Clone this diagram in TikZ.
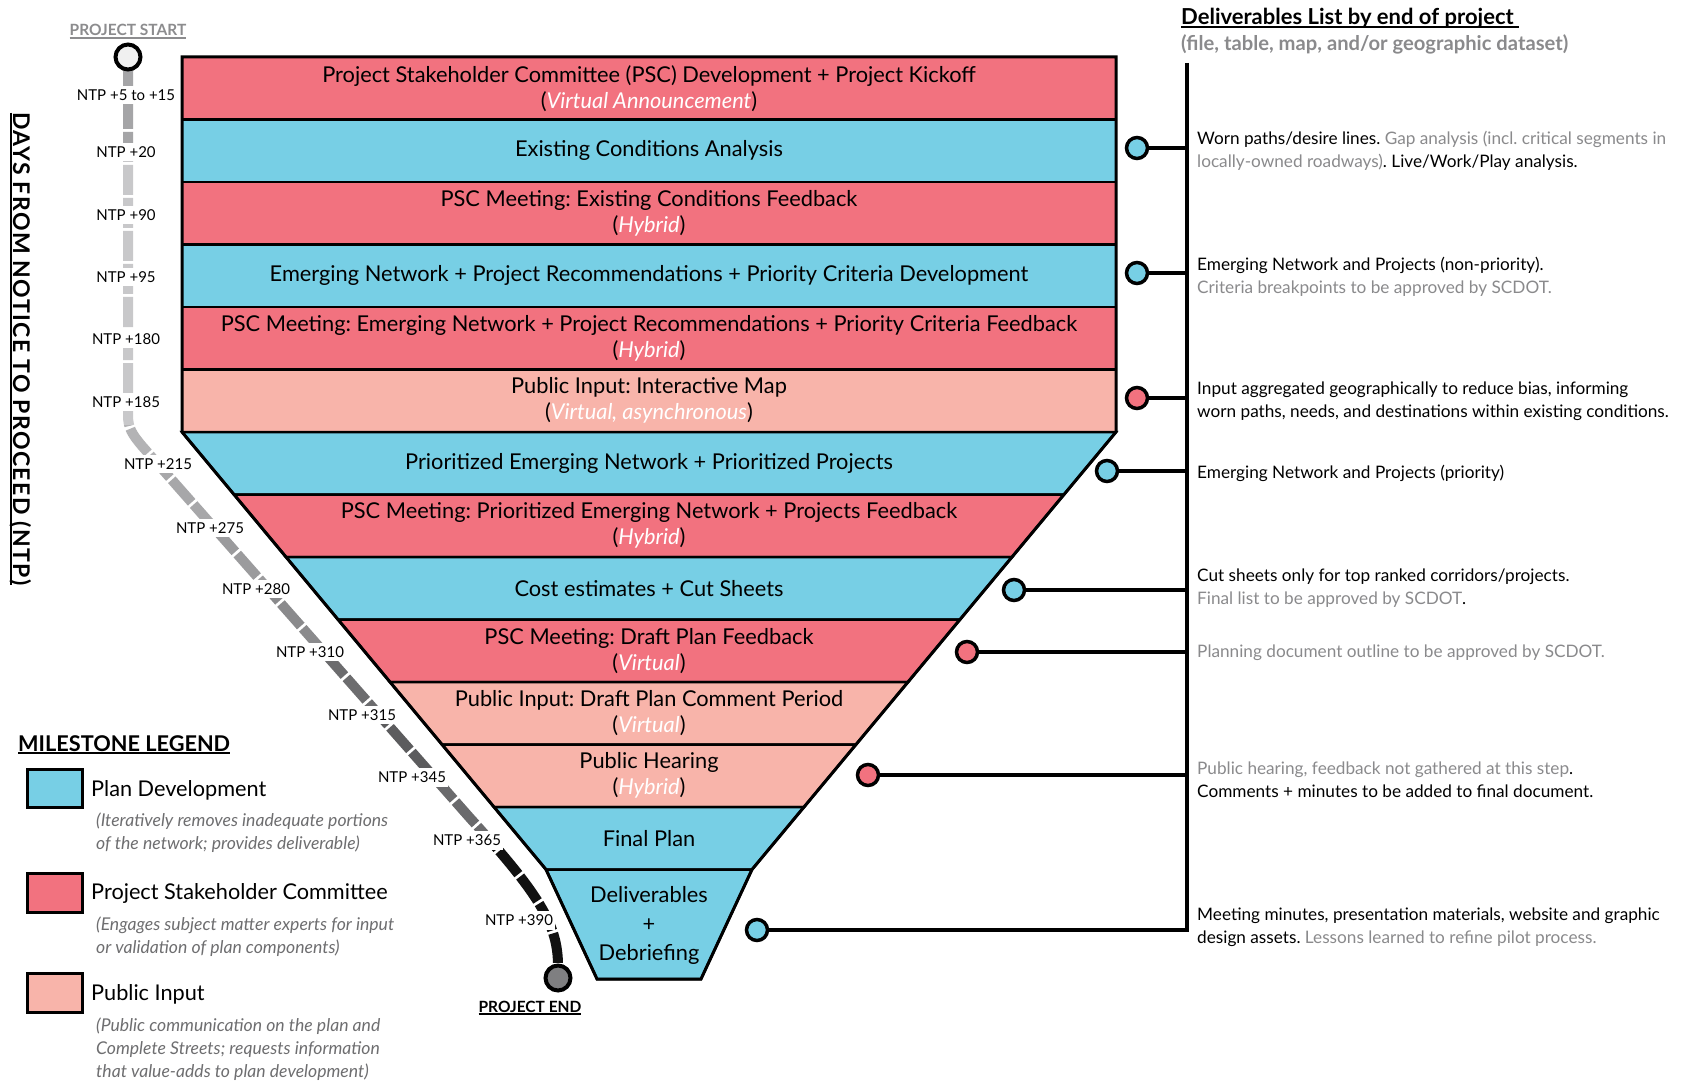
\documentclass[tikz,border=0pt]{standalone}
\usepackage{fontspec}
\setmainfont{Lato}
\frenchspacing
\definecolor{pscpink}{HTML}{F2727F}
\definecolor{planblue}{HTML}{77CFE5}
\definecolor{pubpink}{HTML}{F8B4AA}
\definecolor{txtgray}{HTML}{8A8A8C}
\definecolor{legray}{HTML}{6E6E70}
\definecolor{startgray}{HTML}{8C8C8E}
\definecolor{tlA}{HTML}{A5A5A7}
\definecolor{tlB}{HTML}{C8C8CA}
\definecolor{tlC}{HTML}{B3B3B5}
\definecolor{tlD}{HTML}{A7A7A9}
\definecolor{tlE}{HTML}{9B9B9D}
\definecolor{tlF}{HTML}{8A8A8C}
\definecolor{tlG}{HTML}{6C6C6E}
\definecolor{tlH}{HTML}{5C5C5E}
\definecolor{tlI}{HTML}{6A6A6C}
\definecolor{tlJ}{HTML}{111111}
\definecolor{endgray}{HTML}{7F7F81}
\definecolor{startfill}{HTML}{F0F0F0}
\newcommand{\myul}[1]{\setbox0\hbox{#1}\rlap{\rule[-3pt]{\wd0}{1.6pt}}\box0}
\begin{document}
\begin{tikzpicture}[x=1pt,y=-1pt,
  bandtxt/.style={font=\fontsize{21.8}{26}\selectfont, align=center, text=black, inner sep=0pt},
  ntp/.style={font=\fontsize{15}{18}\selectfont, fill=white, inner xsep=2pt, inner ysep=4pt},
  deltxt/.style={font=\fontsize{17.2}{23}\selectfont, anchor=west, align=left, inner sep=0pt},
  dot/.style={circle, draw=black, line width=3.5pt, minimum size=21pt, inner sep=0pt},
  conn/.style={line width=4pt, line join=miter},
  legbox/.style={draw=black, line width=3pt},
  legname/.style={font=\fontsize{21.7}{25}\selectfont, anchor=west, inner sep=0pt},
  legdesc/.style={font=\fontsize{17.6}{23}\selectfont\itshape, text=legray, anchor=west, align=left, inner sep=0pt},
  tl/.style={line width=10pt, dash pattern=on 30pt off 3pt},
  endpt/.style={circle, draw=black, line width=4pt, minimum size=25pt, inner sep=0pt}
]
\fill[white] (0,0) rectangle (1686,1083);
\useasboundingbox (0,0) rectangle (1686,1083);

% ---------- funnel bands ----------
\foreach \ya/\yb/\la/\lb/\col in {
 57/119.5/182/182/pscpink,
 119.5/182/182/182/planblue,
 182/244.5/182/182/pscpink,
 244.5/307/182/182/planblue,
 307/369.5/182/182/pscpink,
 369.5/432/182/182/pubpink,
 432/494.5/182/234/planblue,
 494.5/557/234/286/pscpink,
 557/619.5/286/338/planblue,
 619.5/682/338/390/pscpink,
 682/744.5/390/442/pubpink,
 744.5/807/442/494/pubpink,
 807/869.5/494/546/planblue,
 869.5/979/546/597/planblue}
 {\filldraw[fill=\col, draw=black, line width=2.5pt, line join=miter]
   (\la,\ya) -- ({1298-\la},\ya) -- ({1298-\lb},\yb) -- (\lb,\yb) -- cycle;}
\draw[line width=3pt, line join=miter] (182,57) -- (1116,57) -- (1116,432) -- (752,869.5)
  -- (701,979) -- (597,979) -- (546,869.5) -- (182,432) -- cycle;

% ---------- band texts ----------
\node[bandtxt] (b1) at (649,88.25) {Project Stakeholder Committee (PSC) Development + Project Kickoff\\(\textcolor{white}{\itshape Virtual Announcement})};
\node[bandtxt] (b2) at (649,150.75) {Existing Conditions Analysis};
\node[bandtxt] (b3) at (649,213.25) {PSC Meeting: Existing Conditions Feedback\\(\textcolor{white}{\itshape Hybrid})};
\node[bandtxt] (b4) at (649,275.75) {Emerging Network + Project Recommendations + Priority Criteria Development};
\node[bandtxt] (b5) at (649,338.25) {PSC Meeting: Emerging Network + Project Recommendations + Priority Criteria Feedback\\(\textcolor{white}{\itshape Hybrid})};
\node[bandtxt] (b6) at (649,400.75) {Public Input: Interactive Map\\(\textcolor{white}{\itshape Virtual, asynchronous})};
\node[bandtxt] (b7) at (649,463.25) {Prioritized Emerging Network + Prioritized Projects};
\node[bandtxt] (b8) at (649,525.75) {PSC Meeting: Prioritized Emerging Network + Projects Feedback\\(\textcolor{white}{\itshape Hybrid})};
\node[bandtxt] (b9) at (649,588.25) {Cost estimates + Cut Sheets};
\node[bandtxt] (b10) at (649,650.75) {PSC Meeting: Draft Plan Feedback\\(\textcolor{white}{\itshape Virtual})};
\node[bandtxt] (b11) at (649,713.25) {Public Input: Draft Plan Comment Period\\(\textcolor{white}{\itshape Virtual})};
\node[bandtxt] (b12) at (649,775.75) {Public Hearing\\(\textcolor{white}{\itshape Hybrid})};
\node[bandtxt] (b13) at (649,838.25) {Final Plan};
\node[bandtxt, font=\fontsize{21.8}{29}\selectfont] (b14) at (649,925) {Deliverables\\+\\Debriefing};

% ---------- timeline ----------
\foreach \ya/\yb/\col in {40/147/tlA, 147/425/tlB, 425/470/tlC, 470/535/tlD, 535/595/tlE,
  595/660/tlF, 660/720/tlG, 720/785/tlH, 785/848/tlI, 848/1000/tlJ}{
  \begin{scope}
    \clip (0,\ya) rectangle (700,\yb);
    \draw[tl, \col] (128,66) -- (128,415) .. controls (128,428) and (132,434) .. (142,446)
      -- (470,818) .. controls (540,895) and (558,925) .. (558,966);
  \end{scope}
}
\node[ntp] (t1) at (126,95) {NTP +5 to +15};
\node[ntp] (t2) at (126,152) {NTP +20};
\node[ntp] (t3) at (126,215) {NTP +90};
\node[ntp] (t4) at (126,277) {NTP +95};
\node[ntp] (t5) at (126,339) {NTP +180};
\node[ntp] (t6) at (126,402) {NTP +185};
\node[ntp] (t7) at (158,464) {NTP +215};
\node[ntp] (t8) at (210,528) {NTP +275};
\node[ntp] (t9) at (256,589) {NTP +280};
\node[ntp] (t10) at (310,652) {NTP +310};
\node[ntp] (t11) at (362,715) {NTP +315};
\node[ntp] (t12) at (412,777) {NTP +345};
\node[ntp] (t13) at (467,840) {NTP +365};
\node[ntp] (t14) at (519,920) {NTP +390};
\node[endpt, fill=startfill] (start) at (128,57) {};
\node[endpt, fill=endgray] (end) at (558,978) {};
\node[font=\fontsize{15.5}{18}\selectfont\bfseries, text=startgray, inner sep=0pt, anchor=base] (startlbl) at (128,36) {\myul{PROJECT START}};
\node[font=\fontsize{15.5}{18}\selectfont\bfseries, inner sep=0pt, anchor=base] (endlbl) at (530,1012) {\myul{PROJECT END}};

% ---------- vertical axis title ----------
\node[font=\fontsize{23}{26}\selectfont\bfseries\addfontfeatures{LetterSpace=6}, rotate=-90, inner sep=0pt, anchor=base] (days) at (13,349) {\myul{DAYS FROM NOTICE TO PROCEED (NTP)}};

% ---------- deliverables list ----------
\node[anchor=base west, inner sep=0pt, font=\fontsize{22}{24}\selectfont\bfseries] (dtitle) at (1181,25) {\myul{Deliverables List by end of project\ }};
\node[anchor=base west, inner sep=0pt, font=\fontsize{20.2}{22}\selectfont\bfseries, text=txtgray] (dsub) at (1181,51) {(file, table, map, and/or geographic dataset)};

\coordinate (vtop) at (1187,63);
\coordinate (vbot) at (1187,930);
\node[dot, fill=planblue] (c1) at (1137,148) {};
\node[dot, fill=planblue] (c2) at (1137,273) {};
\node[dot, fill=pscpink] (c3) at (1137,398) {};
\node[dot, fill=planblue] (c4) at (1107,471) {};
\node[dot, fill=planblue] (c5) at (1014,590) {};
\node[dot, fill=pscpink] (c6) at (967,652) {};
\node[dot, fill=pscpink] (c7) at (868,775) {};
\node[dot, fill=planblue] (c8) at (757,930) {};
\coordinate (v1) at (1187,148);
\coordinate (v2) at (1187,273);
\coordinate (v3) at (1187,398);
\coordinate (v4) at (1187,471);
\coordinate (v5) at (1187,590);
\coordinate (v6) at (1187,652);
\coordinate (v7) at (1187,775);
\draw[conn] (vtop) -- (vbot) -- (c8);
\foreach \i in {1,...,7}{\draw[conn] (c\i) -- (v\i);}

\node[deltxt] (d1) at (1197,150.5) {Worn paths/desire lines. \textcolor{txtgray}{Gap analysis (incl. critical segments in}\\\textcolor{txtgray}{locally-owned roadways)}. Live/Work/Play analysis.};
\node[deltxt] (d2) at (1197,276.5) {Emerging Network and Projects (non-priority).\\\textcolor{txtgray}{Criteria breakpoints to be approved by SCDOT.}};
\node[deltxt] (d3) at (1197,401.5) {Input aggregated geographically to reduce bias, informing\\worn paths, needs, and destinations within existing conditions.};
\node[deltxt] (d4) at (1197,473) {Emerging Network and Projects (priority)};
\node[deltxt] (d5) at (1197,588) {Cut sheets only for top ranked corridors/projects.\\\textcolor{txtgray}{Final list to be approved by SCDOT}.};
\node[deltxt, text=txtgray] (d6) at (1197,653) {Planning document outline to be approved by SCDOT.};
\node[deltxt] (d7) at (1197,779.5) {\textcolor{txtgray}{Public hearing, feedback not gathered at this step}.\\Comments + minutes to be added to final document.};
\node[deltxt] (d8) at (1197,927.5) {Meeting minutes, presentation materials, website and graphic\\design assets. \textcolor{txtgray}{Lessons learned to refine pilot process.}};

% ---------- legend ----------
\node[anchor=base west, inner sep=0pt, font=\fontsize{21.7}{24}\selectfont\bfseries] (legtitle) at (18,751) {\myul{MILESTONE LEGEND}};
\draw[legbox, fill=planblue] (27,769) rectangle (82,807);
\draw[legbox, fill=pscpink] (27,873) rectangle (82,912);
\draw[legbox, fill=pubpink] (27,973) rectangle (82,1012);
\node[legname] (l1) at (91,790) {Plan Development};
\node[legname] (l2) at (91,893) {Project Stakeholder Committee};
\node[legname] (l3) at (91,994) {Public Input};
\node[legdesc] (ld1) at (96,832.5) {(Iteratively removes inadequate portions\\of the network; provides deliverable)};
\node[legdesc] (ld2) at (96,936.5) {(Engages subject matter experts for input\\or validation of plan components)};
\node[legdesc] (ld3) at (96,1049) {(Public communication on the plan and\\Complete Streets; requests information\\that value-adds to plan development)};
\end{tikzpicture}
\end{document}
